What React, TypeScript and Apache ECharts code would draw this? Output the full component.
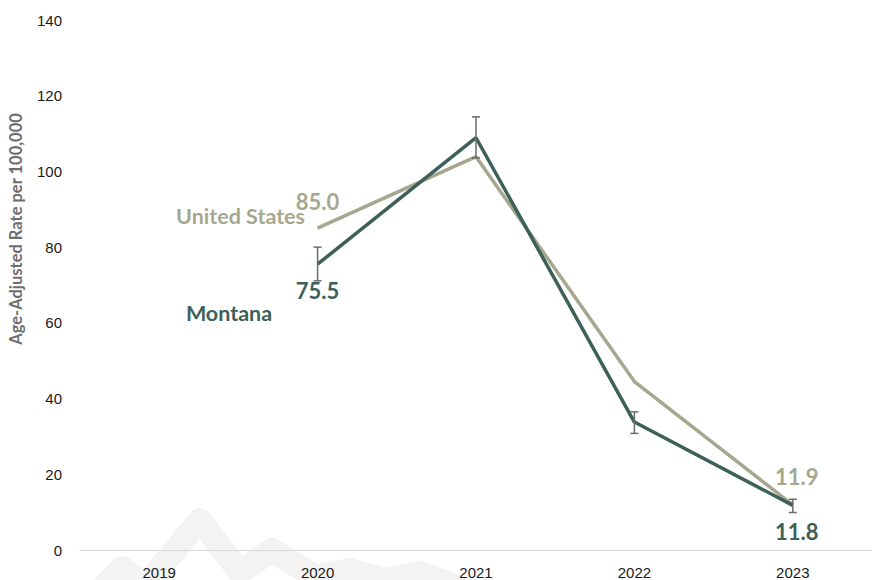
import React, { useEffect, useRef } from "react";
import * as echarts from "echarts";

const years = ["2019", "2020", "2021", "2022", "2023"];
const usValues = [null, 85.0, 103.9, 44.5, 11.9];
const mtValues = [null, 75.5, 108.9, 33.8, 11.8];
const mtLow = [null, 71.1, 103.6, 30.8, 9.9];
const mtHigh = [null, 80.0, 114.4, 36.5, 13.4];
const yTicks = { min: 0, max: 140, interval: 20 };

const US_COLOR = "#a5a88f";
const MT_COLOR = "#3d6058";
const LABEL_FONT = "Lato, 'Noto Sans', sans-serif";

export default function App() {
  const ref = useRef<HTMLDivElement>(null);
  useEffect(() => {
    if (!ref.current) return;
    const chart = echarts.init(ref.current, null, { renderer: "svg" });

    const errData = years
      .map((_, i) => (mtLow[i] == null ? null : [i, mtLow[i], mtHigh[i]]))
      .filter((d) => d != null);

    const labelIdx = (vals: (number | null)[], pos: string, color: string, idxs: number[]) =>
      vals.map((v, i) =>
        idxs.includes(i)
          ? {
              value: v,
              label: {
                show: true,
                position: pos,
                distance: 15,
                offset: i === 4 ? [4, pos === "top" ? -2 : 0] : [0, 0],
                formatter: (p: any) => Number(p.value).toFixed(1),
                color,
                fontFamily: LABEL_FONT,
                fontWeight: "bold",
                fontSize: 22,
              },
            }
          : v
      );

    chart.setOption({
      animation: false,
      backgroundColor: "#ffffff",
      grid: { left: 80, top: 20, width: 796, height: 530, containLabel: false },
      xAxis: {
        type: "category",
        data: years,
        boundaryGap: true,
        axisLine: { show: true, lineStyle: { color: "#d9d9d9", width: 1 } },
        axisTick: { show: false },
        axisLabel: { color: "#1a1a1a", fontSize: 15, margin: 15, fontFamily: "'Liberation Sans', Arial, sans-serif" },
        splitLine: { show: false },
      },
      yAxis: {
        type: "value",
        min: yTicks.min,
        max: yTicks.max,
        interval: yTicks.interval,
        axisLine: { show: false },
        axisTick: { show: false },
        splitLine: { show: false },
        axisLabel: { color: "#1a1a1a", fontSize: 15, margin: 18, fontFamily: "'Liberation Sans', Arial, sans-serif" },
      },
      graphic: [
        {
          type: "polyline",
          z: -10,
          silent: true,
          shape: {
            points: [
              [98, 592],
              [122, 568],
              [145, 586],
              [200, 520],
              [240, 572],
              [272, 550],
              [315, 577],
              [350, 570],
              [385, 580],
              [420, 573],
              [470, 592],
            ],
          },
          style: { stroke: "#f3f3f3", lineWidth: 24, fill: "none", lineJoin: "round" },
        },
        {
          type: "text",
          x: 16,
          y: 229,
          rotation: Math.PI / 2,
          style: {
            text: "Age-Adjusted Rate per 100,000",
            fill: "#6e6e6e",
            font: `bold 16.5px ${LABEL_FONT}`,
            align: "center",
            verticalAlign: "middle",
          },
        },
        {
          type: "text",
          x: 305,
          y: 216,
          style: {
            text: "United States",
            fill: US_COLOR,
            font: `bold 21.5px ${LABEL_FONT}`,
            align: "right",
            verticalAlign: "middle",
          },
        },
        {
          type: "text",
          x: 229,
          y: 313,
          style: {
            text: "Montana",
            fill: MT_COLOR,
            font: `bold 21.5px ${LABEL_FONT}`,
            align: "center",
            verticalAlign: "middle",
          },
        },
      ],
      series: [
        {
          name: "United States",
          type: "line",
          data: labelIdx(usValues, "top", US_COLOR, [1, 4]),
          showSymbol: true,
          symbol: "circle",
          symbolSize: 1,
          itemStyle: { color: "rgba(0,0,0,0)" },
          lineStyle: { color: US_COLOR, width: 3.5 },
          z: 2,
        },
        {
          name: "Montana",
          type: "line",
          data: labelIdx(mtValues, "bottom", MT_COLOR, [1, 4]),
          showSymbol: true,
          symbol: "circle",
          symbolSize: 1,
          itemStyle: { color: "rgba(0,0,0,0)" },
          lineStyle: { color: MT_COLOR, width: 3.5 },
          z: 3,
        },
        {
          name: "Montana CI",
          type: "custom",
          z: 4,
          data: errData,
          renderItem: (params: any, api: any) => {
            const x = api.value(0);
            const top = api.coord([x, api.value(2)]);
            const bot = api.coord([x, api.value(1)]);
            const hw = 4;
            const style = { stroke: "#6b6b6b", lineWidth: 1.5 };
            return {
              type: "group",
              children: [
                { type: "line", shape: { x1: top[0], y1: top[1], x2: bot[0], y2: bot[1] }, style },
                { type: "line", shape: { x1: top[0] - hw, y1: top[1], x2: top[0] + hw, y2: top[1] }, style },
                { type: "line", shape: { x1: bot[0] - hw, y1: bot[1], x2: bot[0] + hw, y2: bot[1] }, style },
              ],
            };
          },
        },
      ],
    });
    return () => chart.dispose();
  }, []);
  return <div ref={ref} style={{ width: 872, height: 580, position: "absolute", left: 0, top: 0 }} />;
}
